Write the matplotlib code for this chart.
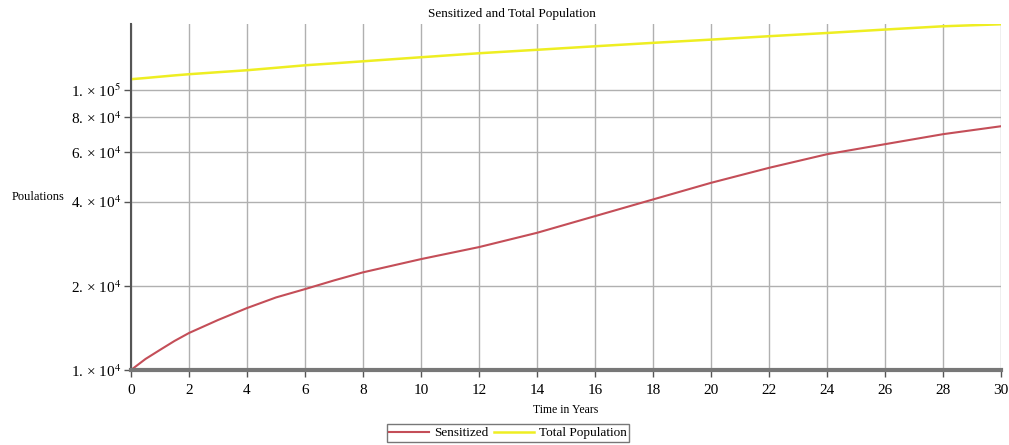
import numpy as np
import matplotlib
matplotlib.use('Agg')
import matplotlib.pyplot as plt

# values (log y axis)
years = [0, 0.5, 1, 1.5, 2, 3, 4, 5, 6, 7, 8, 10, 12, 14, 16, 18, 20, 22, 24, 26, 28, 30]
sensitized = [10000, 10950, 11800, 12700, 13560, 15090, 16650, 18170, 19460, 20900, 22340,
              24910, 27500, 30930, 35480, 40700, 46670, 52800, 59060, 64150, 69650, 74360]
total_pop = [109500, 110600, 111800, 113000, 114100, 116000, 117900, 120300, 122800, 124800,
             126900, 131200, 135600, 139500, 143600, 147700, 151700, 156000, 160200, 164800,
             169300, 172100]

xticks = list(range(0, 31, 2))
yticks = [1e4, 2e4, 4e4, 6e4, 8e4, 1e5]
ytick_labels = ['1. × 10$^{4}$', '2. × 10$^{4}$', '4. × 10$^{4}$',
                '6. × 10$^{4}$', '8. × 10$^{4}$', '1. × 10$^{5}$']

plt.rcParams['font.family'] = ['Liberation Serif', 'DejaVu Serif']
plt.rcParams['mathtext.fontset'] = 'stix'

fig = plt.figure(figsize=(10.09, 4.45), dpi=100)
ax = fig.add_axes([131/1009, 1-370/445, 870/1009, 346/445])

ax.plot(years, sensitized, color='#c44e58', lw=1.5, label='Sensitized')
ax.plot(years, total_pop, color='#eeee22', lw=1.8, label='Total Population')

ax.set_yscale('log')
ax.set_xlim(0, 30)
ax.set_ylim(1e4, 1.725e5)
ax.set_xticks(xticks)
ax.set_yticks(yticks)
ax.set_yticklabels(ytick_labels)
ax.yaxis.set_minor_locator(matplotlib.ticker.NullLocator())
ax.tick_params(axis='both', labelsize=11, color='#555555', length=5, width=1)
ax.tick_params(axis='y', pad=2)
ax.tick_params(axis='x', pad=5)

ax.grid(True, color='#b0b0b0', lw=1)
ax.set_axisbelow(True)
for s in ['top', 'right']:
    ax.spines[s].set_visible(False)
ax.spines['left'].set_color('#555555')
ax.spines['left'].set_linewidth(1.5)
ax.spines['bottom'].set_color('#777777')
ax.spines['bottom'].set_linewidth(3)

fig.text(0.507, 1-14/445, 'Sensitized and Total Population', ha='center', va='center', fontsize=9.5)
fig.text(12/1009, 1-197/445, 'Poulations', ha='left', va='center', fontsize=9)
fig.text(566/1009, 1-410/445, 'Time in Years', ha='center', va='center', fontsize=8.5)

leg = fig.legend(loc='lower center', bbox_to_anchor=(508/1009, -0.008), ncol=2, fontsize=9.5,
                 frameon=True, fancybox=False, edgecolor='#555555', borderpad=0.2,
                 handlelength=3, columnspacing=0.5, handletextpad=0.35)
leg.get_frame().set_linewidth(1)

fig.savefig('out.png', dpi=100)
